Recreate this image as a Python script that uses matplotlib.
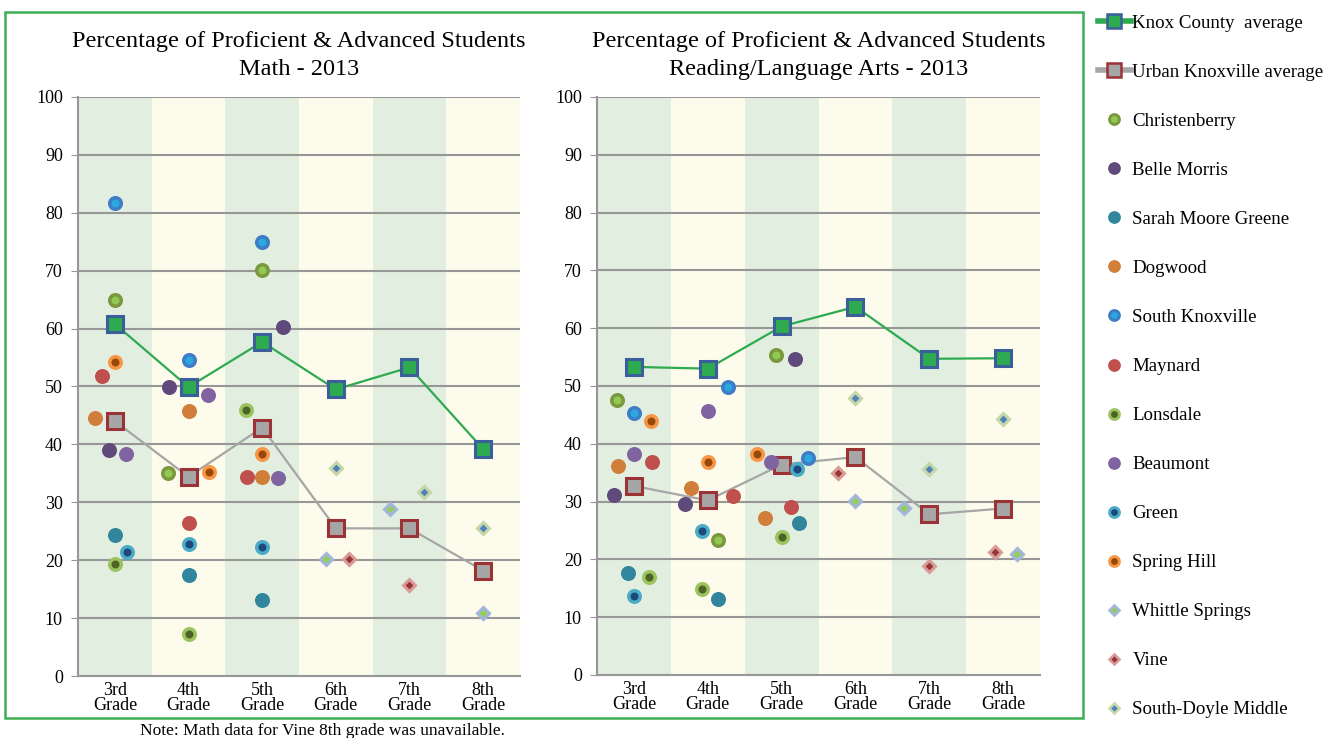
import matplotlib
matplotlib.use("Agg")
import matplotlib.pyplot as plt
from matplotlib.lines import Line2D
from matplotlib.patches import Rectangle

plt.rcParams['font.family'] = ['Liberation Serif', 'DejaVu Serif']

grades = ["3rd\nGrade", "4th\nGrade", "5th\nGrade", "6th\nGrade", "7th\nGrade", "8th\nGrade"]

# ---- data: Math 2013 ----
math_knox = [60.8, 49.9, 57.7, 49.5, 53.3, 39.2]
math_urban = [44.0, 34.4, 42.9, 25.5, 25.5, 18.2]
math_christenberry = [64.9, 35.1, 70.1]
math_belle_morris = [39.0, 49.9, 60.2]
math_sarah_moore_greene = [24.4, 17.4, 13.1]
math_dogwood = [44.6, 45.8, 34.3]
math_south_knoxville = [81.7, 54.6, 75.0]
math_maynard = [51.8, 26.5, 34.3]
math_lonsdale = [19.3, 7.2, 45.9]
math_beaumont = [38.3, 48.5, 34.2]
math_green = [21.4, 22.8, 22.3]
math_spring_hill = [54.2, 35.2, 38.3]
math_whittle_springs = [20.2, 28.8, 10.8]
math_vine = [20.2, 15.8, None]
math_south_doyle = [36.0, 31.8, 25.6]

# ---- data: Reading/Language Arts 2013 ----
read_knox = [53.3, 53.0, 60.3, 63.7, 54.7, 54.8]
read_urban = [32.7, 30.2, 36.4, 37.7, 27.8, 28.8]
read_christenberry = [47.5, 23.4, 55.3]
read_belle_morris = [31.1, 29.6, 54.6]
read_sarah_moore_greene = [17.7, 13.2, 26.3]
read_dogwood = [36.1, 32.4, 27.1]
read_south_knoxville = [45.3, 49.9, 37.6]
read_maynard = [36.9, 30.9, 29.0]
read_lonsdale = [16.9, 14.8, 23.9]
read_beaumont = [38.2, 45.6, 36.9]
read_green = [13.6, 24.9, 35.6]
read_spring_hill = [43.9, 36.8, 38.3]
read_whittle_springs = [30.1, 28.9, 21.0]
read_vine = [34.9, 18.8, 21.3]
read_south_doyle = [47.9, 35.6, 44.3]

# horizontal jitter inside each grade band (layout only, in band widths)
math_jitter = {
    'Christenberry': [0, -0.28, 0], 'Belle Morris': [-0.08, -0.27, 0.28],
    'Sarah Moore Greene': [0, 0, 0], 'Dogwood': [-0.27, 0, 0],
    'South Knoxville': [0, 0, 0], 'Maynard': [-0.18, 0, -0.2],
    'Lonsdale': [0, 0, -0.22], 'Beaumont': [0.15, 0.27, 0.22],
    'Green': [0.16, 0, 0], 'Spring Hill': [0, 0.28, 0],
    'Whittle Springs': [-0.13, -0.26, 0], 'Vine': [0.18, 0, 0],
    'South-Doyle Middle': [0, 0.2, 0],
}
read_jitter = {
    'Christenberry': [-0.23, 0.14, -0.08], 'Belle Morris': [-0.27, -0.31, 0.18],
    'Sarah Moore Greene': [-0.08, 0.14, 0.24], 'Dogwood': [-0.21, -0.23, -0.22],
    'South Knoxville': [0, 0.27, 0.36], 'Maynard': [0.24, 0.34, 0.13],
    'Lonsdale': [0.21, -0.08, 0], 'Beaumont': [0, 0, -0.15],
    'Green': [0, -0.08, 0.21], 'Spring Hill': [0.23, 0, -0.33],
    'Whittle Springs': [0, -0.34, 0.19], 'Vine': [-0.24, 0, -0.11],
    'South-Doyle Middle': [0, 0, 0],
}

# marker style per school: (marker, size, face, edge, edge width)
styles = {
    'Christenberry': ('o', 8.3, '#92C955', '#7A983E', 2.5),
    'Belle Morris': ('o', 10.8, '#604A7B', '#604A7B', 0.0),
    'Sarah Moore Greene': ('o', 10.8, '#31859C', '#31859C', 0.0),
    'Dogwood': ('o', 10.8, '#D07E3A', '#D07E3A', 0.0),
    'South Knoxville': ('o', 8.3, '#2AA8E0', '#3F7CC6', 2.5),
    'Maynard': ('o', 10.8, '#C0504D', '#C0504D', 0.0),
    'Lonsdale': ('o', 8.3, '#4F6228', '#9BC45F', 2.5),
    'Beaumont': ('o', 10.8, '#8064A2', '#8064A2', 0.0),
    'Green': ('o', 8.3, '#1F497D', '#4BACC6', 2.5),
    'Spring Hill': ('o', 8.3, '#984807', '#F79646', 2.5),
    'Whittle Springs': ('D', 5.8, '#92D050', '#A3B5DC', 2.2),
    'Vine': ('D', 5.8, '#953735', '#DA9A98', 2.2),
    'South-Doyle Middle': ('D', 5.8, '#4F81BD', '#C4D7A8', 2.2),
}

math_schools = {
    'Christenberry': math_christenberry, 'Belle Morris': math_belle_morris,
    'Sarah Moore Greene': math_sarah_moore_greene, 'Dogwood': math_dogwood,
    'South Knoxville': math_south_knoxville, 'Maynard': math_maynard,
    'Lonsdale': math_lonsdale, 'Beaumont': math_beaumont, 'Green': math_green,
    'Spring Hill': math_spring_hill, 'Whittle Springs': math_whittle_springs,
    'Vine': math_vine, 'South-Doyle Middle': math_south_doyle,
}
read_schools = {
    'Christenberry': read_christenberry, 'Belle Morris': read_belle_morris,
    'Sarah Moore Greene': read_sarah_moore_greene, 'Dogwood': read_dogwood,
    'South Knoxville': read_south_knoxville, 'Maynard': read_maynard,
    'Lonsdale': read_lonsdale, 'Beaumont': read_beaumont, 'Green': read_green,
    'Spring Hill': read_spring_hill, 'Whittle Springs': read_whittle_springs,
    'Vine': read_vine, 'South-Doyle Middle': read_south_doyle,
}
middle = ['Whittle Springs', 'Vine', 'South-Doyle Middle']

KNOX = dict(color='#2EAA50', lw=1.6, marker='s', ms=12.2, mfc='#2EAA50', mec='#3A5F9A', mew=2.2)
URBAN = dict(color='#A6A6A6', lw=1.6, marker='s', ms=12.2, mfc='#A6A6A6', mec='#9B3236', mew=2.2)


def draw_panel(ax, title, knox, urban, schools, jitter):
    for i in range(len(grades)):
        ax.axvspan(i - 0.5, i + 0.5, color='#E2EFE0' if i % 2 == 0 else '#FDFBEB', lw=0, zorder=0)
    for y in range(10, 101, 10):
        ax.axhline(y, color='#979797', lw=1.5, zorder=1)
    x = list(range(len(grades)))
    ax.plot(x, urban, zorder=3, **URBAN)
    ax.plot(x, knox, zorder=3, **KNOX)
    for name, vals in schools.items():
        start = 3 if name in middle else 0
        m, s, fc, ec, ew = styles[name]
        for k, v in enumerate(vals):
            if v is None:
                continue
            ax.plot(start + k + jitter[name][k], v, linestyle='none', marker=m, ms=s,
                    mfc=fc, mec=ec, mew=ew, zorder=4)
    ax.set_xlim(-0.5, 5.5)
    ax.set_ylim(0, 100)
    ax.set_yticks(range(0, 101, 10))
    ax.set_xticks(x)
    ax.set_xticklabels(grades, fontsize=13, linespacing=0.9)
    ax.tick_params(axis='x', length=0, pad=4)
    ax.tick_params(axis='y', labelsize=13, length=5, color='#979797', pad=6)
    for side in ['top', 'right']:
        ax.spines[side].set_visible(False)
    for side in ['left', 'bottom']:
        ax.spines[side].set_color('#979797')
        ax.spines[side].set_linewidth(1.5)
    ax.set_title(title, fontsize=17.5, pad=16, linespacing=1.42)


fig = plt.figure(figsize=(13.39, 7.38), dpi=100)
ax1 = fig.add_axes([0.0583, 0.0840, 0.330, 0.7846])
ax2 = fig.add_axes([0.4459, 0.0854, 0.3308, 0.7832])

draw_panel(ax1, "Percentage of Proficient & Advanced Students\nMath - 2013",
           math_knox, math_urban, math_schools, math_jitter)
draw_panel(ax2, "Percentage of Proficient & Advanced Students\nReading/Language Arts - 2013",
           read_knox, read_urban, read_schools, read_jitter)

# green frame around both panels
fig.patches.append(Rectangle((5 / 1339, 20 / 738), 1078 / 1339, 706 / 738,
                             transform=fig.transFigure, fill=False,
                             edgecolor='#3DAE55', lw=1.8))

handles = [
    Line2D([], [], color='#2EAA50', lw=4, marker='s', ms=10, mfc='#2EAA50', mec='#3A5F9A', mew=1.8),
    Line2D([], [], color='#A6A6A6', lw=4, marker='s', ms=10, mfc='#A6A6A6', mec='#9B3236', mew=1.8),
]
labels = ['Knox County  average', 'Urban Knoxville average']
for name, (m, s, fc, ec, ew) in styles.items():
    handles.append(Line2D([], [], linestyle='none', marker=m, ms=s * 0.85, mfc=fc, mec=ec, mew=ew * 0.85))
    labels.append(name)

fig.legend(handles, labels, loc='upper left', bbox_to_anchor=(1090 / 1339, 1 - 7 / 738),
           frameon=False, fontsize=13.6, handlelength=1.75, handletextpad=0.1,
           labelspacing=1.685, borderaxespad=0)

fig.text(322 / 1339, 7 / 738, "Note: Math data for Vine 8th grade was unavailable.",
         ha='center', va='center', fontsize=12.5)

fig.savefig('out.png', dpi=100)
